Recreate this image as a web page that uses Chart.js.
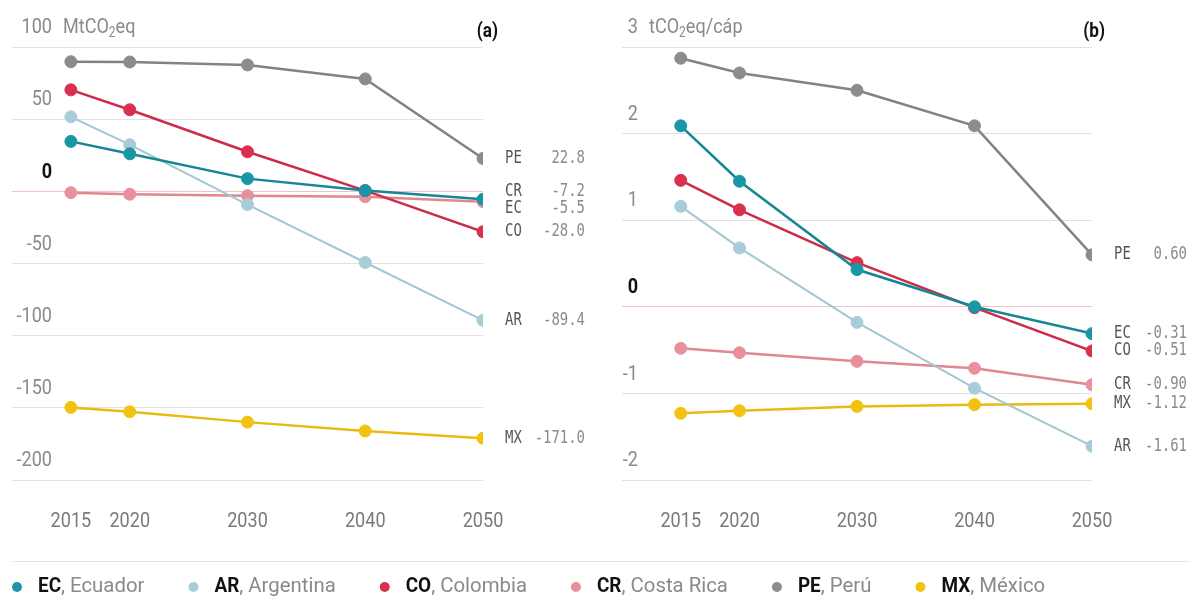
<!DOCTYPE html>
<html>
<head>
<meta charset="utf-8">
<script src="https://cdn.jsdelivr.net/npm/chart.js@4"></script>
<style>
  body { margin: 0; background: #fff; width: 1189px; height: 598px; position: relative; overflow: hidden; }
  canvas { position: absolute; }
  #chartA { left: 0; top: 0; }
  #chartB { left: 600px; top: 0; }
  #legend { left: 0; top: 558px; }
</style>
</head>
<body>
<canvas id="chartA" width="600" height="545"></canvas>
<canvas id="chartB" width="589" height="545"></canvas>
<canvas id="legend" width="1189" height="40"></canvas>
<script>
// Datos
const years = [2015, 2020, 2030, 2040, 2050];
const codes = ['EC', 'AR', 'CO', 'CR', 'PE', 'MX'];
const names = ['Ecuador', 'Argentina', 'Colombia', 'Costa Rica', 'Perú', 'México'];

// (a) MtCO2eq
const ecA = [34.6, 26.0, 8.8, 0.5, -5.5];
const arA = [51.6, 32.3, -9.2, -49.3, -89.4];
const coA = [70.3, 56.5, 27.4, 0.5, -28.0];
const crA = [-0.9, -2.0, -3.0, -3.7, -7.2];
const peA = [89.8, 89.6, 87.6, 77.9, 22.8];
const mxA = [-149.7, -152.7, -159.9, -166.0, -171.0];
const ticksA = [100, 50, 0, -50, -100, -150, -200];

// (b) tCO2eq/cáp
const ecB = [2.09, 1.45, 0.43, 0.00, -0.31];
const arB = [1.16, 0.68, -0.18, -0.94, -1.61];
const coB = [1.46, 1.12, 0.51, -0.01, -0.51];
const crB = [-0.48, -0.53, -0.63, -0.71, -0.90];
const peB = [2.87, 2.70, 2.50, 2.09, 0.60];
const mxB = [-1.23, -1.20, -1.15, -1.13, -1.12];
const ticksB = [3, 2, 1, 0, -1, -2];

// orden de etiquetas al final de las líneas
const labelOrderA = ['PE', 'CR', 'EC', 'CO', 'AR', 'MX'];
const labelOrderB = ['PE', 'EC', 'CO', 'CR', 'MX', 'AR'];

const colors = ['#1a97a6', '#a9ccd8', '#d9304f', '#e8919b', '#8c8c8c', '#f1c20f'];
const lineColors = ['#158794', '#a3c6d2', '#cc2c49', '#df8792', '#838383', '#e8bb10'];

const FONT = 'Roboto, "Noto Sans", sans-serif';
const MONO = '"DejaVu Sans Mono", "Liberation Mono", monospace';
const SQUEEZE = 0.86; // texto condensado

// texto comprimido horizontalmente
function drawText(ctx, text, x, y, align, font, color, sx) {
    ctx.save();
    ctx.font = font;
    ctx.fillStyle = color;
    ctx.textAlign = 'left';
    ctx.textBaseline = 'middle';
    const w = ctx.measureText(text).width * sx;
    const x0 = align === 'right' ? x - w : align === 'center' ? x - w / 2 : x;
    ctx.translate(x0, y);
    ctx.scale(sx, 1);
    ctx.fillText(text, 0, 0);
    ctx.restore();
    return w;
}

// Dibuja etiquetas de ejes, unidades, título y etiquetas finales
const overlayPlugin = {
    id: 'overlay',
    afterDatasetsDraw(chart, args, opts) {
        const ctx = chart.ctx;
        const y = chart.scales.y;
        const x = chart.scales.x;
        const area = chart.chartArea;

        // etiquetas del eje Y encima de la rejilla
        opts.ticks.forEach((v, i) => {
            const py = y.getPixelForValue(v) - 19;
            const bold = v === 0;
            drawText(ctx, String(v), area.left + opts.tickRight, py, 'right',
                (bold ? 'bold ' : '') + '21px ' + FONT, bold ? '#111' : '#8a8a8a', SQUEEZE);
            if (i === 0) {
                let px = area.left + opts.tickRight + 11;
                px += drawText(ctx, opts.unit[0], px, py, 'left', '21px ' + FONT, '#8a8a8a', SQUEEZE);
                px += drawText(ctx, '2', px, py + 5, 'left', '14px ' + FONT, '#8a8a8a', SQUEEZE);
                drawText(ctx, opts.unit[1], px, py, 'left', '21px ' + FONT, '#8a8a8a', SQUEEZE);
            }
        });

        // etiquetas del eje X
        years.forEach(v => {
            drawText(ctx, String(v), x.getPixelForValue(v), area.bottom + 42, 'center',
                '21px ' + FONT, '#7a7a7a', SQUEEZE);
        });

        // título (a)/(b)
        drawText(ctx, opts.title, area.right + opts.titleOffset, area.top - 15, 'right',
            'bold 20px ' + FONT, '#111', SQUEEZE);

        // etiquetas finales con separación mínima
        const items = opts.order.map(code => {
            const i = codes.indexOf(code);
            const data = chart.data.datasets[i].data;
            const last = data[data.length - 1];
            return { code: code, value: last.y, py: y.getPixelForValue(last.y) };
        });
        const gap = 17;
        for (let k = 0; k < 20; k++) {
            for (let j = 1; j < items.length; j++) {
                const d = items[j].py - items[j - 1].py;
                if (d < gap) {
                    const o = gap - d;
                    items[j - 1].py -= o / 2;
                    items[j].py += o / 2;
                }
            }
        }
        items.forEach(it => {
            drawText(ctx, it.code, area.right + 22, it.py, 'left', '17px ' + MONO, '#555', 0.82);
            drawText(ctx, it.value.toFixed(opts.decimals), area.right + opts.valueRight, it.py, 'right',
                '17px ' + MONO, '#8a8a8a', 0.82);
        });
    }
};

function makeDatasets(series) {
    return series.map((values, i) => ({
        label: codes[i],
        data: values.map((v, k) => ({ x: years[k], y: v })),
        borderColor: lineColors[i],
        backgroundColor: colors[i],
        pointBackgroundColor: colors[i],
        pointBorderColor: colors[i],
        borderWidth: codes[i] === 'AR' ? 2 : 2.5,
        pointRadius: 6,
        pointBorderWidth: 1,
        tension: 0
    }));
}

function createChart(canvasId, series, yTicks, padding, overlay) {
    const min = yTicks[yTicks.length - 1];
    const max = yTicks[0];
    return new Chart(document.getElementById(canvasId), {
        type: 'line',
        data: { datasets: makeDatasets(series) },
        options: {
            responsive: false,
            animation: false,
            devicePixelRatio: 1,
            layout: { padding: padding },
            plugins: {
                legend: { display: false },
                tooltip: { enabled: false },
                overlay: overlay
            },
            scales: {
                x: {
                    type: 'linear',
                    min: 2010,
                    max: 2050,
                    afterBuildTicks: s => { s.ticks = years.map(v => ({ value: v })); },
                    afterFit: s => { s.height = 65; },
                    grid: { display: false, drawTicks: false },
                    border: { display: false },
                    ticks: { display: false }
                },
                y: {
                    min: min,
                    max: max,
                    afterBuildTicks: s => { s.ticks = yTicks.map(v => ({ value: v })); },
                    afterFit: s => { s.width = 0; },
                    grid: {
                        drawTicks: false,
                        lineWidth: 1,
                        color: c => c.tick && c.tick.value === 0 ? '#ecc4ca' : '#e2e2e2'
                    },
                    border: { display: false },
                    ticks: { display: false }
                }
            }
        },
        plugins: [overlayPlugin]
    });
}

createChart('chartA', [ecA, arA, coA, crA, peA, mxA], ticksA,
    { left: 12, right: 117, top: 47, bottom: 0 },
    { ticks: ticksA, tickRight: 40, unit: ['MtCO', 'eq'], title: '(a)', titleOffset: 15,
      order: labelOrderA, decimals: 1, valueRight: 102 });

createChart('chartB', [ecB, arB, coB, crB, peB, mxB], ticksB,
    { left: 22, right: 97, top: 47, bottom: 0 },
    { ticks: ticksB, tickRight: 16, unit: ['tCO', 'eq/cáp'], title: '(b)', titleOffset: 13,
      order: labelOrderB, decimals: 2, valueRight: 95 });

// leyenda
function drawLegend() {
    const canvas = document.getElementById('legend');
    const ctx = canvas.getContext('2d');
    ctx.fillStyle = '#e4e4e4';
    ctx.fillRect(13, 3, canvas.width - 13, 1);
    let px = 17;
    const cy = 29;
    codes.forEach((code, i) => {
        ctx.beginPath();
        ctx.arc(px, cy, 5, 0, Math.PI * 2);
        ctx.fillStyle = colors[i];
        ctx.fill();
        let tx = px + 21;
        tx += drawText(ctx, code, tx, cy, 'left', 'bold 21px ' + FONT, '#111', 0.9);
        tx += drawText(ctx, ', ' + names[i], tx, cy, 'left', '21px ' + FONT, '#8a8a8a', 0.97);
        px = tx + 49;
    });
}
drawLegend();
</script>
</body>
</html>
